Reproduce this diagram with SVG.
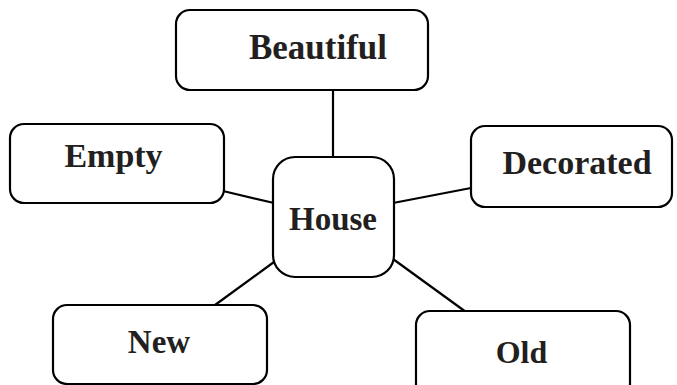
<svg xmlns="http://www.w3.org/2000/svg" width="677" height="385" viewBox="0 0 677 385">
<style>
.box{fill:#fff;stroke:#000;stroke-width:2.2}
.lbl{font-family:"Liberation Serif","Times New Roman",serif;font-weight:bold;font-size:34px;fill:#231f20;text-anchor:middle}
.con{stroke:#000;stroke-width:2.2;fill:none}
</style>
<rect width="677" height="385" fill="#fff"/>
<g id="connectors">
<line class="con" x1="333" y1="90" x2="333" y2="158"/>
<line class="con" x1="223" y1="191" x2="274" y2="203"/>
<line class="con" x1="393" y1="203" x2="471" y2="188"/>
<line class="con" x1="274" y1="262" x2="215" y2="305"/>
<line class="con" x1="393" y1="259" x2="466" y2="312"/>
</g>
<g id="beautiful">
<rect class="box" x="176" y="10" width="252" height="80" rx="14"/>
<text class="lbl" x="318" y="59" style="font-size:35px">Beautiful</text>
</g>
<g id="empty">
<rect class="box" x="10" y="124" width="214" height="79" rx="14"/>
<text class="lbl" x="113.5" y="167">Empty</text>
</g>
<g id="house">
<rect class="box" x="273" y="157" width="121" height="120" rx="22"/>
<text class="lbl" x="333" y="230" style="font-size:33px">House</text>
</g>
<g id="decorated">
<rect class="box" x="471" y="126" width="201" height="81" rx="14"/>
<text class="lbl" x="577" y="174">Decorated</text>
</g>
<g id="new">
<rect class="box" x="53" y="305" width="214" height="79" rx="14"/>
<text class="lbl" x="159" y="353" style="font-size:33px">New</text>
</g>
<g id="old">
<rect class="box" x="416" y="311" width="214" height="90" rx="14"/>
<text class="lbl" x="521.5" y="363" style="font-size:32px">Old</text>
</g>
</svg>
